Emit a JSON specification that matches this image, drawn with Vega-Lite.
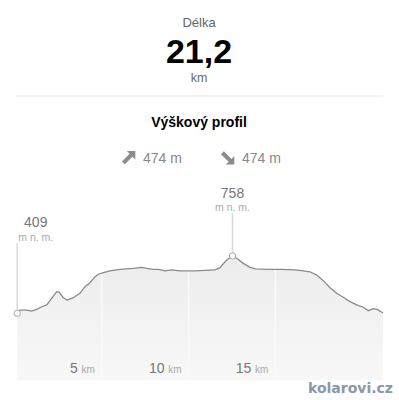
{
  "$schema": "https://vega.github.io/schema/vega-lite/v6.json",
  "background": "white",
  "padding": {"left": 12, "top": 0, "right": 0, "bottom": 0},
  "spacing": 0,
  "bounds": "flush",
  "center": true,
  "config": {
    "view": {"stroke": null},
    "font": "Liberation Sans",
    "text": {"font": "Liberation Sans"}
  },
  "datasets": {
    "trasa": [{"delka": 21.2}],
    "prevyseni": [
      {"smer": "nahoru", "m": 474},
      {"smer": "dolů", "m": 474}
    ],
    "profil": [
      {"km": 0.13, "elev": 409},
      {"km": 0.29, "elev": 429},
      {"km": 0.67, "elev": 429},
      {"km": 0.96, "elev": 423},
      {"km": 1.25, "elev": 433},
      {"km": 1.54, "elev": 449},
      {"km": 1.83, "elev": 460},
      {"km": 2.11, "elev": 500},
      {"km": 2.4, "elev": 541},
      {"km": 2.55, "elev": 537},
      {"km": 2.78, "elev": 504},
      {"km": 3.01, "elev": 490},
      {"km": 3.36, "elev": 504},
      {"km": 3.74, "elev": 531},
      {"km": 4.03, "elev": 571},
      {"km": 4.32, "elev": 595},
      {"km": 4.61, "elev": 632},
      {"km": 4.8, "elev": 647},
      {"km": 5.09, "elev": 656},
      {"km": 5.47, "elev": 668},
      {"km": 6.05, "elev": 677},
      {"km": 6.82, "elev": 683},
      {"km": 7.3, "elev": 689},
      {"km": 7.59, "elev": 683},
      {"km": 7.97, "elev": 677},
      {"km": 8.26, "elev": 677},
      {"km": 8.64, "elev": 667},
      {"km": 9.03, "elev": 673},
      {"km": 9.51, "elev": 667},
      {"km": 10.37, "elev": 667},
      {"km": 11.52, "elev": 673},
      {"km": 11.81, "elev": 687},
      {"km": 12.1, "elev": 723},
      {"km": 12.39, "elev": 750},
      {"km": 12.53, "elev": 758},
      {"km": 12.77, "elev": 744},
      {"km": 13.15, "elev": 713},
      {"km": 13.54, "elev": 689},
      {"km": 13.83, "elev": 679},
      {"km": 14.59, "elev": 677},
      {"km": 15.36, "elev": 677},
      {"km": 16.13, "elev": 673},
      {"km": 16.61, "elev": 668},
      {"km": 16.99, "elev": 662},
      {"km": 17.38, "elev": 642},
      {"km": 17.76, "elev": 608},
      {"km": 18.15, "elev": 565},
      {"km": 18.53, "elev": 531},
      {"km": 18.91, "elev": 507},
      {"km": 19.3, "elev": 480},
      {"km": 19.69, "elev": 460},
      {"km": 20.07, "elev": 446},
      {"km": 20.35, "elev": 425},
      {"km": 20.64, "elev": 437},
      {"km": 20.87, "elev": 433},
      {"km": 21.2, "elev": 411}
    ],
    "extremy": [
      {"typ": "min", "km": 0.13, "elev": 409},
      {"typ": "max", "km": 12.53, "elev": 758}
    ],
    "znacky": [{"km": 5}, {"km": 10}, {"km": 15}]
  },
  "vconcat": [
    {
      "width": 368,
      "height": 96,
      "data": {"name": "trasa"},
      "transform": [
        {"calculate": "replace(format(datum.delka, '.1f'), '.', ',')", "as": "delkaText"}
      ],
      "layer": [
        {
          "mark": {"type": "text", "text": "Délka", "fontSize": 13, "color": "#666666", "baseline": "alphabetic", "dy": -20.7}
        },
        {
          "mark": {"type": "text", "fontSize": 34, "fontWeight": "bold", "color": "#000000", "baseline": "alphabetic", "dy": 15.3},
          "encoding": {"text": {"field": "delkaText", "type": "nominal"}}
        },
        {
          "mark": {"type": "text", "text": "km", "fontSize": 12.5, "color": "#6a6a6a", "baseline": "alphabetic", "dy": 34.3}
        },
        {
          "mark": {"type": "rule", "color": "#e6e6e6", "strokeWidth": 1},
          "encoding": {
            "y": {"datum": 0, "type": "quantitative", "scale": {"domain": [0, 1]}, "axis": null}
          }
        }
      ]
    },
    {
      "width": 297,
      "height": 80,
      "data": {"name": "prevyseni"},
      "transform": [
        {"calculate": "datum.m + ' m'", "as": "popis"}
      ],
      "layer": [
        {
          "data": {"values": [{}]},
          "mark": {"type": "text", "text": "Výškový profil", "fontSize": 14, "fontWeight": "bold", "color": "#000000", "baseline": "alphabetic", "dy": -8.7}
        },
        {
          "mark": {"type": "point", "filled": true, "size": 185, "color": "#8c8c8c", "opacity": 1, "yOffset": 21.8},
          "encoding": {
            "x": {"field": "smer", "type": "nominal", "sort": ["nahoru", "dolů"], "scale": {"type": "point", "padding": 1, "align": 0.394}, "axis": null},
            "shape": {
              "field": "smer",
              "type": "nominal",
              "scale": {
                "domain": ["nahoru", "dolů"],
                "range": [
                  "M1,-1L1,0.25L0.587,-0.163L-0.538,0.962L-0.962,0.538L0.163,-0.587L-0.25,-1Z",
                  "M1,1L1,-0.25L0.587,0.163L-0.538,-0.962L-0.962,-0.538L0.163,0.587L-0.25,1Z"
                ]
              },
              "legend": null
            }
          }
        },
        {
          "mark": {"type": "text", "align": "left", "baseline": "alphabetic", "fontSize": 14, "color": "#888888", "dx": 14.5, "dy": 27.3},
          "encoding": {
            "x": {"field": "smer", "type": "nominal", "sort": ["nahoru", "dolů"], "scale": {"type": "point", "padding": 1, "align": 0.394}, "axis": null},
            "text": {"field": "popis", "type": "nominal"}
          }
        }
      ]
    },
    {
      "width": 368,
      "height": 204.5,
      "layer": [
        {
          "data": {"name": "profil"},
          "mark": {
            "type": "area",
            "color": {
              "gradient": "linear",
              "x1": 0, "y1": 0, "x2": 0, "y2": 1,
              "stops": [
                {"offset": 0, "color": "#ececec"},
                {"offset": 1, "color": "#f8f8f8"}
              ]
            }
          },
          "encoding": {
            "x": {"field": "km", "type": "quantitative", "scale": {"domain": [0, 21.2], "nice": false, "zero": false}, "axis": null},
            "y": {"field": "elev", "type": "quantitative", "scale": {"domain": [0, 1245], "nice": false}, "axis": null}
          }
        },
        {
          "data": {"name": "znacky"},
          "mark": {"type": "rule", "color": "#fafafa", "strokeWidth": 1.5},
          "encoding": {
            "x": {"field": "km", "type": "quantitative"}
          }
        },
        {
          "data": {"name": "profil"},
          "mark": {"type": "area", "color": "#ffffff", "opacity": 1},
          "encoding": {
            "x": {"field": "km", "type": "quantitative"},
            "y": {"field": "elev", "type": "quantitative"},
            "y2": {"datum": 1245}
          }
        },
        {
          "data": {"name": "profil"},
          "mark": {"type": "line", "color": "#8a8a8a", "strokeWidth": 1.3},
          "encoding": {
            "x": {"field": "km", "type": "quantitative"},
            "y": {"field": "elev", "type": "quantitative"}
          }
        },
        {
          "data": {"name": "extremy"},
          "transform": [{"filter": "datum.typ == 'max'"}],
          "mark": {"type": "rule", "color": "#d9d9d9", "strokeWidth": 1.5, "y2Offset": -43},
          "encoding": {
            "x": {"field": "km", "type": "quantitative"},
            "y": {"field": "elev", "type": "quantitative"},
            "y2": {"field": "elev"}
          }
        },
        {
          "data": {"name": "extremy"},
          "transform": [{"filter": "datum.typ == 'min'"}],
          "mark": {"type": "rule", "color": "#d9d9d9", "strokeWidth": 1.5, "y2Offset": -70},
          "encoding": {
            "x": {"field": "km", "type": "quantitative"},
            "y": {"field": "elev", "type": "quantitative"},
            "y2": {"field": "elev"}
          }
        },
        {
          "data": {"name": "extremy"},
          "mark": {"type": "point", "shape": "circle", "filled": true, "fill": "#ffffff", "stroke": "#a8a8a8", "strokeWidth": 1, "size": 40, "opacity": 1},
          "encoding": {
            "x": {"field": "km", "type": "quantitative"},
            "y": {"field": "elev", "type": "quantitative"}
          }
        },
        {
          "data": {"name": "extremy"},
          "transform": [{"filter": "datum.typ == 'max'"}],
          "mark": {"type": "text", "baseline": "alphabetic", "fontSize": 14, "color": "#777777", "dy": -57.7},
          "encoding": {
            "x": {"field": "km", "type": "quantitative"},
            "y": {"field": "elev", "type": "quantitative"},
            "text": {"field": "elev", "type": "quantitative", "format": "d"}
          }
        },
        {
          "data": {"name": "extremy"},
          "transform": [{"filter": "datum.typ == 'max'"}],
          "mark": {"type": "text", "text": "m n. m.", "baseline": "alphabetic", "fontSize": 10.5, "color": "#aaaaaa", "dy": -45.3},
          "encoding": {
            "x": {"field": "km", "type": "quantitative"},
            "y": {"field": "elev", "type": "quantitative"}
          }
        },
        {
          "data": {"name": "extremy"},
          "transform": [{"filter": "datum.typ == 'min'"}],
          "mark": {"type": "text", "baseline": "alphabetic", "fontSize": 14, "color": "#777777", "dx": 18.5, "dy": -86.3},
          "encoding": {
            "x": {"field": "km", "type": "quantitative"},
            "y": {"field": "elev", "type": "quantitative"},
            "text": {"field": "elev", "type": "quantitative", "format": "d"}
          }
        },
        {
          "data": {"name": "extremy"},
          "transform": [{"filter": "datum.typ == 'min'"}],
          "mark": {"type": "text", "text": "m n. m.", "baseline": "alphabetic", "fontSize": 10.5, "color": "#aaaaaa", "dx": 18.5, "dy": -72.3},
          "encoding": {
            "x": {"field": "km", "type": "quantitative"},
            "y": {"field": "elev", "type": "quantitative"}
          }
        },
        {
          "data": {"name": "znacky"},
          "mark": {"type": "text", "align": "right", "baseline": "alphabetic", "fontSize": 14, "color": "#777777", "dx": -24, "dy": -7.7},
          "encoding": {
            "x": {"field": "km", "type": "quantitative"},
            "y": {"datum": 0, "type": "quantitative"},
            "text": {"field": "km", "type": "quantitative", "format": "d"}
          }
        },
        {
          "data": {"name": "znacky"},
          "mark": {"type": "text", "text": "km", "align": "right", "baseline": "alphabetic", "fontSize": 10, "color": "#aaaaaa", "dx": -7, "dy": -7.7},
          "encoding": {
            "x": {"field": "km", "type": "quantitative"},
            "y": {"datum": 0, "type": "quantitative"}
          }
        },
        {
          "data": {"values": [{}]},
          "mark": {"type": "text", "text": "kolarovi.cz", "font": "DejaVu Sans", "fontWeight": "bold", "fontSize": 14, "letterSpacing": 2.6, "color": "#8a98a8", "align": "right", "baseline": "alphabetic", "dx": 10, "dy": 12.5},
          "encoding": {
            "x": {"datum": 21.2, "type": "quantitative"},
            "y": {"datum": 0, "type": "quantitative"}
          }
        }
      ]
    }
  ]
}
